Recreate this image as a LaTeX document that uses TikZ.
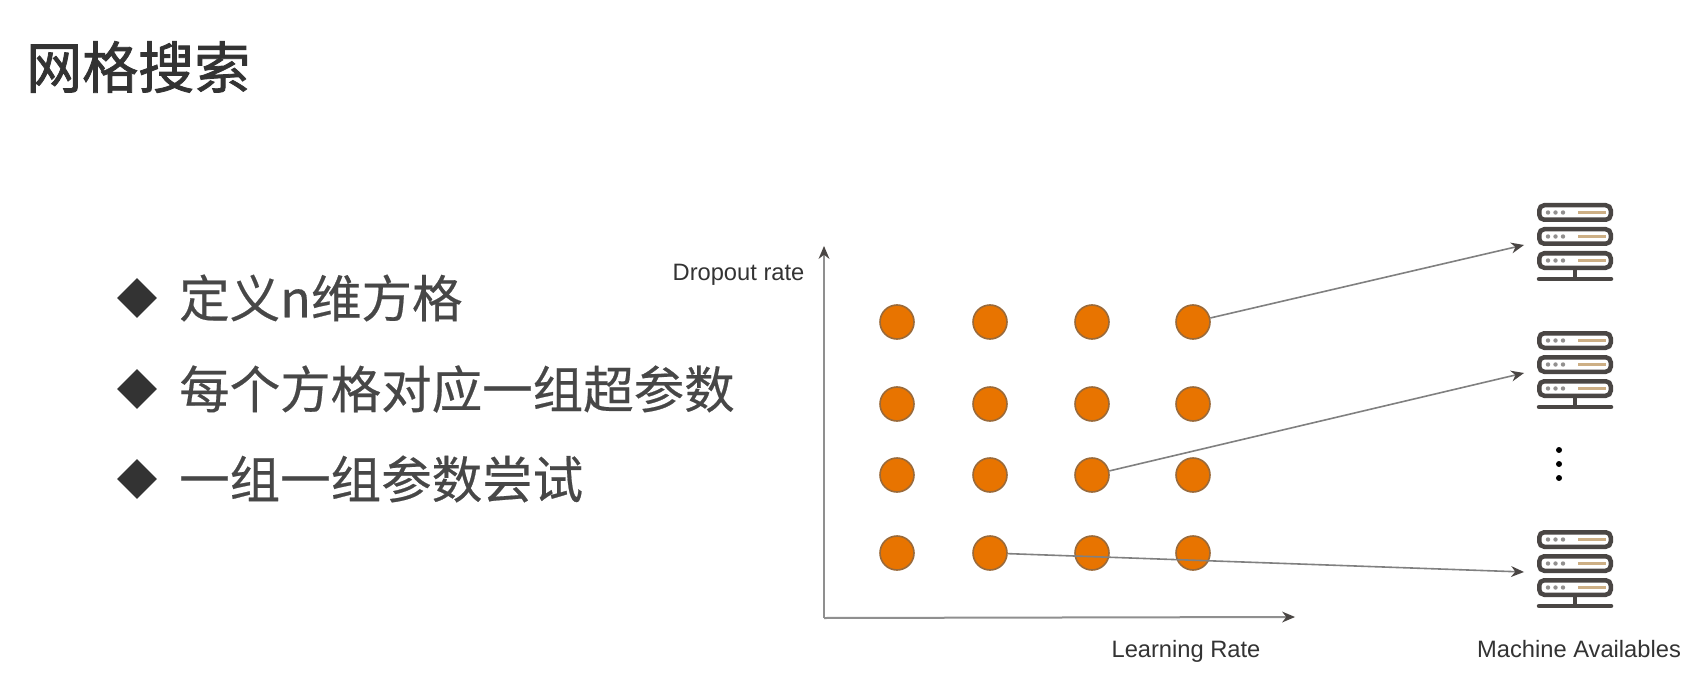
\documentclass[tikz,border=0pt]{standalone}
\usepackage{fontspec}
\setmainfont{Liberation Sans}
\newfontfamily\cjk[FakeBold=0.4]{Noto Sans CJK SC}
\newfontfamily\cjktitle[FakeBold=1.4]{Noto Sans CJK SC}
\usetikzlibrary{arrows.meta,shapes.geometric}
\definecolor{dotfill}{HTML}{E87400}
\definecolor{dotline}{HTML}{9A6A3A}
\definecolor{inkdark}{HTML}{333333}
\definecolor{axisgrey}{HTML}{8F8F8F}
\definecolor{linkgrey}{HTML}{808080}
\definecolor{servdark}{HTML}{4A4644}
\definecolor{servtan}{HTML}{CDAF85}
\tikzset{
  griddot/.style={circle,fill=dotfill,draw=dotline,line width=1.6pt,minimum size=34pt,inner sep=0pt},
  axisline/.style={draw=axisgrey,line width=2pt,-{Stealth[length=13pt,width=11pt,fill=servdark,line width=0pt]}},
  link/.style={draw=linkgrey,line width=1.6pt,-{Stealth[length=13pt,width=11pt,fill=servdark,line width=0pt]}},
  titletext/.style={anchor=west,inner sep=0pt,text=inkdark,font=\fontsize{56}{60}\selectfont\cjktitle},
  bullettext/.style={anchor=west,inner sep=0pt,text=inkdark!90!white,font=\fontsize{50.5}{56}\selectfont\cjk},
  bulletmark/.style={diamond,fill=inkdark,aspect=1,minimum size=40pt,inner sep=0pt},
  smalllabel/.style={inner sep=0pt,text=inkdark,font=\fontsize{23.7}{26}\selectfont},
  dotsmark/.style={circle,fill=black,minimum size=6pt,inner sep=0pt}
}
% server icon: #1 = left x, #2 = top y
\newcommand{\serverrow}[2]{%
  \draw[servdark,line width=4.5pt,fill=white,rounded corners=5pt] (#1+2.25,#2+2.25) rectangle (#1+73.75,#2+16.75);
  \foreach \dx in {11,18.5,26} \fill[servdark!60!white] (#1+\dx,#2+9.5) circle (2.2pt);
  \draw[servtan,line width=3.5pt] (#1+41,#2+9.5) -- (#1+68.5,#2+9.5);
}
\newcommand{\servericon}[2]{%
  \serverrow{#1}{#2}
  \serverrow{#1}{#2+24}
  \serverrow{#1}{#2+48}
  \draw[servdark,line width=4.5pt] (#1+38,#2+66) -- (#1+38,#2+76);
  \draw[servdark,line width=4.5pt,line cap=round] (#1+2,#2+76) -- (#1+74,#2+76);
}
\begin{document}
\begin{tikzpicture}[x=1pt,y=-1pt]
\useasboundingbox (0,0) rectangle (1693,676);
\fill[white] (0,0) rectangle (1693,676);

\node[titletext] (title) at (26,67) {网格搜索};

\node[bulletmark] (b1) at (137,298) {};
\node[bulletmark] (b2) at (137,389) {};
\node[bulletmark] (b3) at (137,479) {};
\node[bullettext] (t1) at (179,298) {定义n维方格};
\node[bullettext] (t2) at (179,389) {每个方格对应一组超参数};
\node[bullettext] (t3) at (179,479) {一组一组参数尝试};

\coordinate (origin) at (824,618);
\coordinate (ytop) at (824,246);
\coordinate (xend) at (1295,617);
\draw[axisline] (origin) -- (ytop);
\draw[axisline] (origin) -- (xend);

\node[smalllabel] (ylab) at (738.5,275) {Dropout rate};
\node[smalllabel] (xlab) at (1186,651) {Learning Rate};
\node[smalllabel] (mlab) at (1579,649) {Machine Availables};

\foreach \r/\y in {1/322,2/404,3/475,4/553}
  \foreach \c/\x in {1/897,2/990,3/1092,4/1193}
    \node[griddot] (d\r\c) at (\x,\y) {};

\servericon{1537}{203}
\servericon{1537}{331}
\servericon{1537}{530}

\coordinate (s1) at (1524,245);
\coordinate (s2) at (1524,373);
\coordinate (s3) at (1524,572);
\draw[link] (d14) -- (s1);
\draw[link] (d33) -- (s2);
\draw[link] (d42) -- (s3);

\node[dotsmark] (v1) at (1559,450) {};
\node[dotsmark] (v2) at (1559,464) {};
\node[dotsmark] (v3) at (1559,478) {};
\end{tikzpicture}
\end{document}
